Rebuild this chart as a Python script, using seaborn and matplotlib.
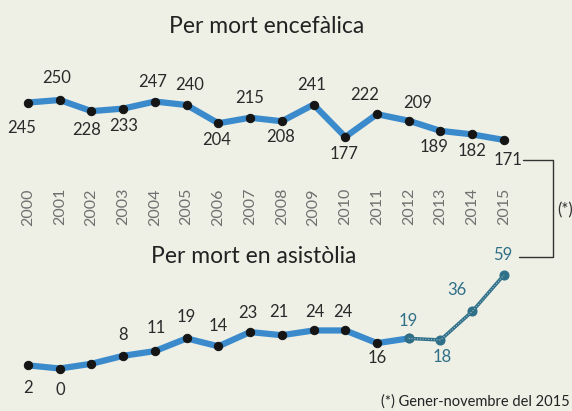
import matplotlib
matplotlib.use("Agg")
import matplotlib.pyplot as plt
from matplotlib.lines import Line2D
import pandas as pd
import seaborn as sns

years = list(range(2000, 2016))
encefalica = [245, 250, 228, 233, 247, 240, 204, 215, 208, 241, 177, 222, 209, 189, 182, 171]
asistolia = [2, 0, 3, 8, 11, 19, 14, 23, 21, 24, 24, 16, 19, 18, 36, 59]
asist_shown = [True, True, False] + [True] * 13

# label offsets in pixels (dx, dy)
enc_off = [(-6, -25), (-3, 22), (-5, -19), (0, -17), (-2, 20), (3, 20), (-2, -17), (0, 20),
           (-1, -16), (-2, 20), (-1, -17), (-12, 19), (9, 18), (-6, -16), (0, -17), (4, -20)]
asi_off = [(0, -23), (1, -21), (0, 0), (0, 21), (1, 23), (0, 21), (0, 20), (-2, 19),
           (-3, 23), (1, 18), (-2, 18), (0, -15), (-1, 17), (2, -17), (-15, 21), (-1, 20)]

W, H = 572, 411
BG = "#eef0e6"
BLUE = "#3b8bcc"
TEAL = "#2f6f88"
DOT = "#151515"

sns.set_theme(style="white")
plt.rcParams["font.family"] = ["Lato", "DejaVu Sans"]

df = pd.DataFrame({"year": years, "enc": encefalica, "asi": asistolia})

fig = plt.figure(figsize=(W / 100, H / 100), dpi=100)
fig.patch.set_facecolor(BG)


def px(x, y):
    return x / W, 1 - y / H


# top panel: per mort encefalica
ax1 = fig.add_axes([0, 1 - 170 / H, 1, 110 / H])
sns.lineplot(data=df, x="year", y="enc", ax=ax1, color=BLUE, lw=4.5,
             marker="o", markersize=6, markerfacecolor=DOT, markeredgecolor=DOT)
ax1.set_ylim(111.66, 329.05)
for yr, v, (dx, dy) in zip(years, encefalica, enc_off):
    ax1.annotate(str(v), (yr, v), xytext=(dx, dy), textcoords="offset pixels",
                 ha="center", va="center", fontsize=12, color="#2a2a2a")
ax1.set_xticks(years)
ax1.set_xticklabels([str(y) for y in years], rotation=90, color="#707070", fontsize=11.5)
ax1.tick_params(axis="x", length=0, pad=13)

# bottom panel: per mort en asistolia
ax2 = fig.add_axes([0, 1 - 385 / H, 1, 130 / H])
sns.lineplot(data=df.iloc[:13], x="year", y="asi", ax=ax2, color=BLUE, lw=4.5,
             marker="o", markersize=6, markerfacecolor=DOT, markeredgecolor=DOT)
sns.lineplot(data=df.iloc[12:], x="year", y="asi", ax=ax2, color=TEAL, lw=2.5,
             marker="o", markersize=6.5, markerfacecolor=TEAL, markeredgecolor=TEAL)
ax2.plot(df["year"].iloc[12:], df["asi"].iloc[12:], color="#cfe3ea", lw=0.8,
         dashes=(1, 1.5), alpha=0.7)
ax2.set_ylim(-10.4, 71.6)
for i, (yr, v, (dx, dy)) in enumerate(zip(years, asistolia, asi_off)):
    if not asist_shown[i]:
        continue
    col = TEAL if i >= 12 else "#2a2a2a"
    ax2.annotate(str(v), (yr, v), xytext=(dx, dy), textcoords="offset pixels",
                 ha="center", va="center", fontsize=12, color=col)
ax2.set_xticks([])

for ax in (ax1, ax2):
    ax.set_facecolor("none")
    ax.set_xlim(1999.118, 2017.145)
    ax.set_yticks([])
    ax.set_xlabel("")
    ax.set_ylabel("")
    for s in ax.spines.values():
        s.set_visible(False)

# titles and notes
fig.text(*px(267, 33), "Per mort encefàlica", ha="center", va="baseline",
         fontsize=16.5, color="#222222")
fig.text(*px(254, 263), "Per mort en asistòlia", ha="center", va="baseline",
         fontsize=16.5, color="#222222")
fig.text(*px(570, 406), "(*) Gener-novembre del 2015", ha="right", va="baseline",
         fontsize=10.5, color="#222222")
fig.text(*px(557, 210), "(*)", ha="left", va="center", fontsize=12, color="#333333")

bx = [px(523, 160), px(553, 160), px(553, 257), px(519, 257)]
fig.add_artist(Line2D([p[0] for p in bx], [p[1] for p in bx],
                      transform=fig.transFigure, color="#333333", lw=1))

fig.savefig("out.png", dpi=100, facecolor=BG)
